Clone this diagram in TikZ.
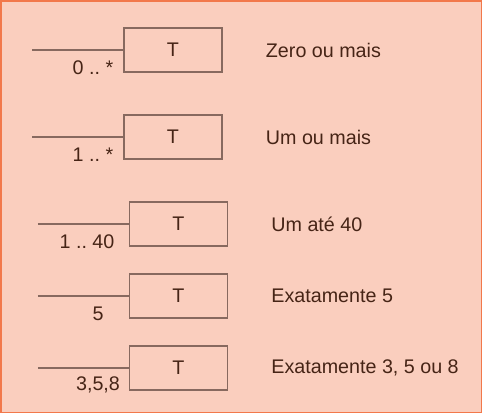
\documentclass[tikz,border=0pt]{standalone}
\usepackage{fontspec}
\setmainfont{Liberation Sans}
\frenchspacing
\definecolor{bgsalmon}{RGB}{250,206,190}
\definecolor{frameorange}{RGB}{242,120,75}
\definecolor{inkbrown}{RGB}{70,36,22}
\definecolor{linebrown}{RGB}{135,105,95}
\tikzset{
    tbox/.style={draw=linebrown, line width=1.5pt, minimum width=98pt, minimum height=44pt,
        inner sep=0pt, text=inkbrown, font=\fontsize{19.7}{23}\selectfont},
    assoc/.style={draw=linebrown, line width=1.5pt},
    mult/.style={text=inkbrown, inner sep=0pt, font=\fontsize{19.7}{23}\selectfont},
    desc/.style={text=inkbrown, anchor=west, inner sep=0pt, font=\fontsize{19.7}{23}\selectfont}
}
% #1 name, #2 box centre, #3 multiplicity, #4 its centre, #5 description
\newcommand{\drawrow}[5]{%
    % draw box and line
    \node[tbox] (#1) at (#2) {T};
    \path (#1.west) ++(-91,0) coordinate (#1-end);
    \draw[assoc] (#1-end) -- (#1.west);
    % draw labels
    \node[mult] (#1-mult) at (#4) {#3};
    \node[desc] (#1-desc) at ([xshift=43]#1.east) {#5};
}

\begin{document}
\begin{tikzpicture}[x=1pt,y=-1pt]
\fill[bgsalmon] (0,0) rectangle (482,413);
\draw[frameorange, line width=1.5pt] (0.75,0.75) rectangle (481.25,412.25);
\useasboundingbox (0,0) rectangle (482,413);
\drawrow{zero}{173,50}{0 .. *}{93,68}{Zero ou mais}
\drawrow{one}{173,137}{1 .. *}{93,155}{Um ou mais}
\drawrow{upto}{178.5,224}{1 .. 40}{87,242}{Um até 40}
\drawrow{five}{178.5,296}{5}{98,314}{Exatamente 5}
\drawrow{three}{178.5,368}{3,5,8}{98,385}{Exatamente 3, 5 ou 8}
\end{tikzpicture}
\end{document}
